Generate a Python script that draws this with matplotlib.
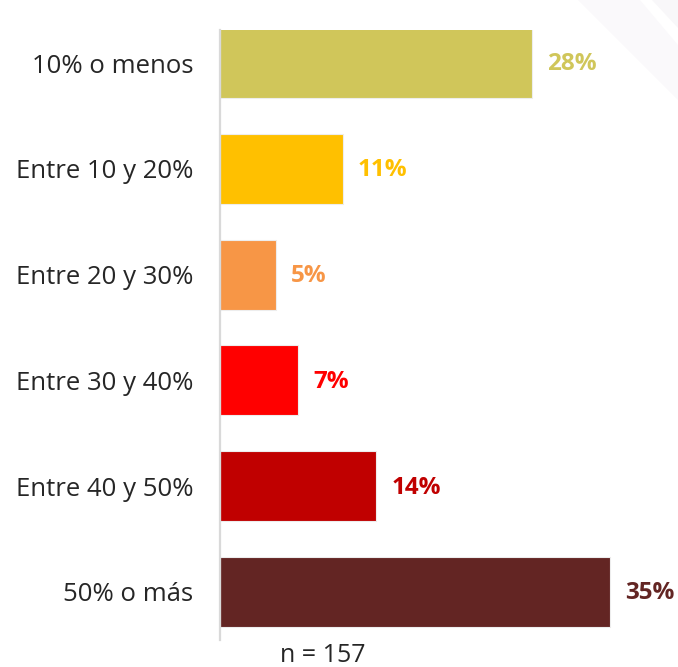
import matplotlib
matplotlib.use("Agg")
import matplotlib.pyplot as plt
from matplotlib.patches import Polygon

categories = ["10% o menos", "Entre 10 y 20%", "Entre 20 y 30%",
              "Entre 30 y 40%", "Entre 40 y 50%", "50% o más"]
values = [28, 11, 5, 7, 14, 35]
value_labels = ["28%", "11%", "5%", "7%", "14%", "35%"]
colors = ["#D0C65A", "#FFC000", "#F79646", "#FF0000", "#C00000", "#632523"]
sample_note = "n = 157"

plt.rcParams["font.family"] = ["Open Sans", "DejaVu Sans"]

W, H = 678, 667
fig = plt.figure(figsize=(W / 100, H / 100), dpi=100)

# faint diagonal decoration in the upper right corner
bg = fig.add_axes([0, 0, 1, 1], zorder=0)
bg.set_xlim(0, W)
bg.set_ylim(H, 0)
bg.axis("off")
bg.add_patch(Polygon([[578, 0], [640, 0], [678, 45], [678, 100]],
                     closed=True, color="#FAF9FB", lw=0))
bg.add_patch(Polygon([[652, 0], [678, 0], [678, 28]],
                     closed=True, color="#F8F7F9", lw=0))

px_per_unit = 11.15
ax_left, ax_top, ax_bottom = 220, 30, 640
ax = fig.add_axes([ax_left / W, 1 - ax_bottom / H,
                   (W - ax_left) / W, (ax_bottom - ax_top) / H], zorder=1)
ax.patch.set_alpha(0)

ypos = list(range(len(categories)))
ax.barh(ypos, values, height=0.66, color=colors,
        edgecolor="#EDEDED", linewidth=0.8)
ax.set_xlim(0, (W - ax_left) / px_per_unit)
ax.set_ylim(5 + 0.454, -0.312)

for y, v, lab, c in zip(ypos, values, value_labels, colors):
    ax.annotate(lab, (v, y), xytext=(11, -1), textcoords="offset points",
                ha="left", va="center", fontsize=17.5, fontweight="bold",
                color=c)

ax.set_yticks(ypos)
ax.set_yticklabels(categories, fontsize=18.5, color="#262626")
for t in ax.get_yticklabels():
    t.set_y(t.get_position()[1])
ax.tick_params(axis="y", length=0, pad=19)
ax.set_xticks([])
for s in ["top", "right", "bottom"]:
    ax.spines[s].set_visible(False)
ax.spines["left"].set_color("#D9D9D9")
ax.spines["left"].set_linewidth(1.6)

fig.text(323 / W, 1 - 656 / H, sample_note, ha="center", va="center",
         fontsize=18, color="#262626")

fig.savefig("out.png", dpi=100)
